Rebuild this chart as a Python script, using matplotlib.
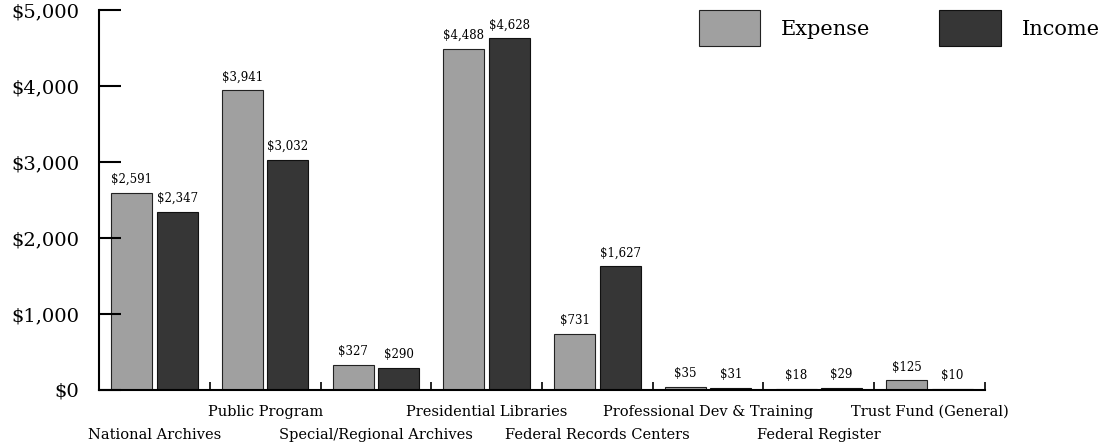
import matplotlib
matplotlib.use('Agg')
import matplotlib.pyplot as plt
import matplotlib.transforms as mtransforms
import numpy as np

categories = ['National Archives', 'Public Program', 'Special/Regional Archives',
              'Presidential Libraries', 'Federal Records Centers',
              'Professional Dev & Training', 'Federal Register', 'Trust Fund (General)']
expense = [2591, 3941, 327, 4488, 731, 35, 18, 125]
income = [2347, 3032, 290, 4628, 1627, 31, 29, 10]
yticks = [0, 1000, 2000, 3000, 4000, 5000]

plt.rcParams['font.family'] = ['DejaVu Serif']

fig = plt.figure(figsize=(11.05, 4.48), dpi=100)
ax = fig.add_axes([0.0896, 0.1295, 0.8018, 0.8482])

x = np.arange(len(categories)) + 0.5
w = 0.37
off = 0.205
b1 = ax.bar(x - off, expense, w, color='#a0a0a0', edgecolor='#222222', linewidth=0.8, label='Expense')
b2 = ax.bar(x + off, income, w, color='#363636', edgecolor='#111111', linewidth=0.8, label='Income')

for bars, vals in ((b1, expense), (b2, income)):
    for r, v in zip(bars, vals):
        ax.annotate('${:,}'.format(v), (r.get_x() + r.get_width() / 2, v),
                    xytext=(0, 5), textcoords='offset points',
                    ha='center', va='bottom', fontsize=8.5)

ax.set_xlim(0, len(categories))
ax.set_ylim(0, 5000)
ax.set_yticks(yticks)
ax.set_yticklabels(['${:,}'.format(t) for t in yticks], fontsize=14)
ax.tick_params(axis='y', direction='in', length=16, width=1.5, pad=14)
ax.set_xticks(np.arange(1, len(categories) + 1))
ax.set_xticklabels([])
ax.tick_params(axis='x', direction='in', length=6, width=1.2)

for s in ('top', 'right'):
    ax.spines[s].set_visible(False)
for s in ('left', 'bottom'):
    ax.spines[s].set_linewidth(1.5)

trans = mtransforms.blended_transform_factory(ax.transData, ax.transAxes)
for i, (xi, name) in enumerate(zip(x, categories)):
    yy = -0.118 if i % 2 == 0 else -0.058
    ax.text(xi, yy, name, transform=trans, ha='center', va='center', fontsize=10.5)

ax.legend(loc='upper left', bbox_to_anchor=(0.623, 1.0), bbox_transform=fig.transFigure,
          ncol=2, frameon=False, fontsize=15, handlelength=2.95, handleheight=2.25,
          handletextpad=1.0, columnspacing=3.3, borderpad=0)

fig.savefig('out.png', dpi=100)
